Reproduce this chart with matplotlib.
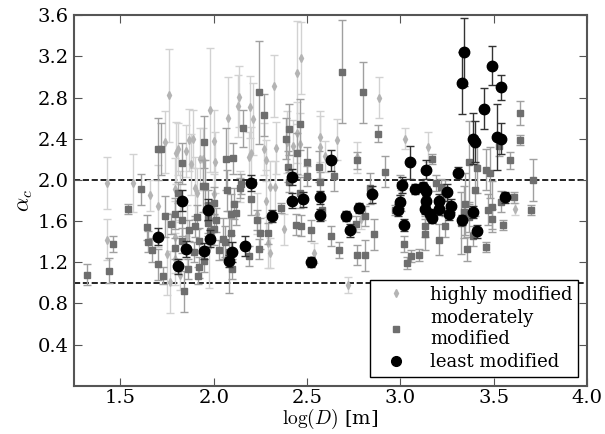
import numpy as np
import matplotlib
matplotlib.use('Agg')
import matplotlib.pyplot as plt
from matplotlib.lines import Line2D

plt.rcParams['font.family'] = 'DejaVu Serif'
plt.rcParams['mathtext.fontset'] = 'cm'

# least modified (black circles): log(D), alpha_c, error
least_x = [1.70, 1.81, 1.83, 1.85, 1.95, 1.97, 1.98, 2.08, 2.10, 2.17, 2.20, 2.31, 2.42, 2.42,
           2.48, 2.52, 2.57, 2.57, 2.63, 2.71, 2.73, 2.78, 2.85, 2.99, 3.00, 3.01, 3.02, 3.05,
           3.08, 3.12, 3.14, 3.14, 3.14, 3.13, 3.16, 3.17, 3.21, 3.21, 3.25, 3.27, 3.26, 3.31,
           3.33, 3.33, 3.34, 3.39, 3.40, 3.39, 3.41, 3.45, 3.49, 3.52, 3.54, 3.54, 3.56]
least_y = [1.45, 1.16, 1.80, 1.33, 1.31, 1.71, 1.43, 1.21, 1.30, 1.36, 1.97, 1.65, 2.03, 1.80,
           1.81, 1.20, 1.83, 1.66, 2.19, 1.65, 1.51, 1.73, 1.86, 1.71, 1.79, 1.95, 1.56, 2.17,
           1.91, 1.93, 2.10, 1.89, 1.80, 1.72, 1.67, 1.63, 1.80, 1.72, 1.88, 1.75, 1.67, 2.07,
           1.61, 2.94, 3.24, 2.40, 2.37, 1.69, 1.50, 2.69, 3.11, 2.42, 2.40, 2.90, 1.83]
least_err = [0.08, 0.07, 0.10, 0.08, 0.08, 0.10, 0.08, 0.06, 0.10, 0.10, 0.08, 0.06, 0.08, 0.07,
             0.07, 0.05, 0.06, 0.06, 0.10, 0.05, 0.06, 0.05, 0.08, 0.06, 0.06, 0.08, 0.06, 0.16,
             0.05, 0.05, 0.09, 0.05, 0.05, 0.05, 0.05, 0.05, 0.06, 0.06, 0.08, 0.06, 0.06, 0.06,
             0.05, 0.30, 0.33, 0.25, 0.20, 0.06, 0.06, 0.20, 0.19, 0.32, 0.15, 0.12, 0.05]

# moderately modified (grey squares)
mod_x = [1.32, 1.44, 1.46, 1.54, 1.61, 1.64, 1.65, 1.67, 1.70, 1.715, 1.70, 1.73, 1.74, 1.77,
         1.79, 1.79, 1.81, 1.83, 1.83, 1.83, 1.84, 1.865, 1.86, 1.895, 1.90, 1.91, 1.92, 1.915,
         1.92, 1.94, 1.955, 1.95, 1.95, 1.97, 1.97, 1.97, 1.98, 2.00, 2.00, 2.01, 2.03, 2.05,
         2.06, 2.065, 2.07, 2.08, 2.09, 2.095, 2.10, 2.105, 2.11, 2.12, 2.14, 2.147, 2.156, 2.19,
         2.20, 2.23, 2.24, 2.24, 2.25, 2.27, 2.29, 2.36, 2.39, 2.405, 2.40, 2.405, 2.44, 2.445,
         2.465, 2.465, 2.47, 2.50, 2.50, 2.52, 2.565, 2.57, 2.58, 2.63, 2.646, 2.67, 2.69, 2.76,
         2.767, 2.77, 2.80, 2.81, 2.81, 2.84, 2.86, 2.88, 2.92, 2.97, 3.00, 3.005, 3.02, 3.035,
         3.06, 3.10, 3.13, 3.13, 3.17, 3.19, 3.22, 3.24, 3.21, 3.24, 3.325, 3.34, 3.345, 3.36,
         3.366, 3.37, 3.39, 3.40, 3.41, 3.46, 3.46, 3.47, 3.48, 3.49, 3.49, 3.53, 3.54, 3.55,
         3.59, 3.61, 3.64, 3.64, 3.70, 3.71]
mod_y = [1.08, 1.12, 1.38, 1.72, 1.91, 1.54, 1.40, 1.32, 2.30, 2.30, 1.18, 1.07, 1.645, 1.57,
         1.67, 1.335, 1.875, 2.16, 1.61, 1.41, 0.92, 1.51, 1.135, 1.30, 1.55, 1.64, 1.41, 1.07,
         1.15, 1.94, 1.94, 2.37, 1.21, 1.755, 1.58, 1.63, 1.50, 1.52, 1.78, 1.61, 1.32, 1.43,
         1.40, 2.20, 1.90, 1.30, 1.665, 1.48, 1.135, 2.21, 1.77, 1.68, 1.92, 1.96, 2.50, 1.26,
         1.81, 1.61, 2.85, 1.33, 1.48, 2.63, 1.48, 1.73, 2.40, 2.49, 2.13, 1.98, 1.565, 2.26,
         2.54, 1.875, 1.555, 2.17, 2.04, 1.51, 2.13, 1.98, 1.71, 1.455, 2.04, 1.32, 3.05, 1.57,
         2.19, 1.27, 2.85, 1.27, 1.65, 1.92, 1.47, 2.45, 2.08, 1.71, 1.95, 1.80, 1.38, 1.19,
         1.26, 1.27, 1.55, 1.47, 2.20, 1.97, 1.93, 1.90, 1.42, 1.55, 1.585, 1.69, 1.765, 1.33,
         2.17, 1.64, 1.455, 1.90, 2.12, 1.35, 2.10, 1.71, 2.07, 1.74, 1.62, 2.33, 1.79, 1.56,
         2.19, 1.83, 2.65, 2.39, 1.71, 2.00]
mod_err = [0.10, 0.12, 0.08, 0.05, 0.15, 0.12, 0.10, 0.12, 0.30, 0.25, 0.15, 0.08, 0.20, 0.10,
           0.15, 0.10, 0.10, 0.20, 0.15, 0.12, 0.20, 0.10, 0.10, 0.10, 0.10, 0.12, 0.12, 0.08,
           0.10, 0.25, 0.25, 0.25, 0.10, 0.15, 0.12, 0.15, 0.12, 0.15, 0.15, 0.12, 0.10, 0.20,
           0.15, 0.30, 0.20, 0.40, 0.20, 0.15, 0.10, 0.15, 0.15, 0.12, 0.10, 0.10, 0.18, 0.10,
           0.15, 0.10, 0.50, 0.10, 0.15, 0.20, 0.10, 0.05, 0.20, 0.25, 0.15, 0.10, 0.10, 0.20,
           0.25, 0.15, 0.10, 0.15, 0.10, 0.10, 0.15, 0.10, 0.10, 0.10, 0.15, 0.08, 0.50, 0.08,
           0.08, 0.10, 0.30, 0.15, 0.10, 0.15, 0.15, 0.08, 0.15, 0.05, 0.10, 0.10, 0.08, 0.06,
           0.06, 0.06, 0.10, 0.15, 0.05, 0.08, 0.08, 0.10, 0.15, 0.10, 0.30, 0.25, 0.30, 0.12,
           0.40, 0.15, 0.10, 0.25, 0.25, 0.05, 0.20, 0.15, 0.25, 0.25, 0.10, 0.10, 0.10, 0.05,
           0.08, 0.05, 0.12, 0.05, 0.05, 0.20]

# highly modified (light grey diamonds)
high_x = [1.43, 1.43, 1.565, 1.66, 1.70, 1.74, 1.75, 1.765, 1.76, 1.79, 1.79, 1.79, 1.80, 1.81,
          1.82, 1.82, 1.85, 1.856, 1.87, 1.877, 1.89, 1.90, 1.91, 1.926, 1.94, 1.975, 1.98, 2.00,
          2.00, 2.006, 2.077, 2.13, 2.135, 2.143, 2.19, 2.195, 2.20, 2.21, 2.23, 2.27, 2.28, 2.28,
          2.29, 2.30, 2.30, 2.325, 2.333, 2.33, 2.376, 2.395, 2.426, 2.447, 2.449, 2.462, 2.467,
          2.54, 2.567, 2.57, 2.597, 2.662, 2.72, 2.77, 2.79, 2.887, 3.024, 3.146, 3.613]
high_y = [1.97, 1.42, 1.97, 1.85, 1.745, 2.37, 1.28, 1.01, 2.82, 1.45, 1.23, 1.91, 2.26, 2.30,
          1.84, 1.08, 2.28, 1.46, 2.39, 2.15, 2.40, 1.92, 1.87, 2.20, 2.20, 1.35, 2.68, 2.38,
          1.86, 2.17, 2.60, 2.72, 2.81, 1.94, 2.22, 2.71, 2.26, 2.59, 1.67, 2.30, 2.19, 1.80,
          1.39, 1.93, 1.29, 2.91, 2.31, 1.93, 1.52, 2.37, 2.33, 3.04, 2.46, 2.35, 3.18,
          1.29, 2.42, 2.32, 2.23, 2.39, 0.98, 2.22, 1.62, 2.80, 2.40, 2.32, 1.72]
high_err = [0.25, 0.20, 0.28, 0.15, 0.40, 0.30, 0.40, 0.30, 0.45, 0.35, 0.25, 0.30, 0.30, 0.25,
            0.25, 0.15, 0.25, 0.30, 0.30, 0.30, 0.28, 0.30, 0.25, 0.30, 0.30, 0.40, 0.60, 0.30,
            0.20, 0.30, 0.40, 0.30, 0.30, 0.15, 0.25, 0.30, 0.25, 0.35, 0.20, 0.25, 0.20, 0.30,
            0.25, 0.25, 0.15, 0.30, 0.25, 0.25, 0.15, 0.30, 0.25, 0.50, 0.30, 0.30, 0.35,
            0.10, 0.25, 0.30, 0.15, 0.20, 0.08, 0.15, 0.10, 0.20, 0.10, 0.15, 0.06]

fig = plt.figure(figsize=(6.05, 4.34), dpi=100)
ax = fig.add_axes([0.122, 0.111, 0.848, 0.854])

ax.errorbar(high_x, high_y, yerr=high_err, fmt='d', color='#b4b4b4', ecolor='#d2d2d2',
            markersize=4, elinewidth=1, capsize=3, zorder=2)
ax.errorbar(mod_x, mod_y, yerr=mod_err, fmt='s', color='#6e6e6e', ecolor='#a0a0a0',
            markersize=4.5, elinewidth=1, capsize=3, markeredgecolor='#6e6e6e', zorder=3)
ax.errorbar(least_x, least_y, yerr=least_err, fmt='o', color='black', ecolor='#333333',
            markersize=7.5, elinewidth=1, capsize=3, zorder=4)

ax.axhline(2.0, color='black', linestyle='--', linewidth=1.2, zorder=1)
ax.axhline(1.0, color='black', linestyle='--', linewidth=1.2, zorder=1)

ax.set_xlim(1.25, 4.0)
ax.set_ylim(0.0, 3.6)
ax.set_xticks([1.5, 2.0, 2.5, 3.0, 3.5, 4.0])
ax.set_yticks([0.4, 0.8, 1.2, 1.6, 2.0, 2.4, 2.8, 3.2, 3.6])
ax.tick_params(direction='in', top=True, right=True, length=6, labelsize=14, color='#555555')
ax.tick_params(axis='x', pad=2)
for s in ax.spines.values():
    s.set_color('#555555')
    s.set_linewidth(1.5)

ax.set_xlabel(r'$\log(D)$ [m]', fontsize=14, labelpad=0)
ax.set_ylabel(r'$\alpha_c$', fontsize=16, labelpad=2)

handles = [Line2D([], [], marker='d', linestyle='none', color='#b4b4b4', markersize=4),
           Line2D([], [], marker='s', linestyle='none', color='#6e6e6e', markersize=4),
           Line2D([], [], marker='o', linestyle='none', color='black', markersize=7)]
labels = ['highly modified', 'moderately\nmodified', 'least modified']
leg = ax.legend(handles, labels, loc='lower right', numpoints=1, fontsize=13, fancybox=False,
                framealpha=1, edgecolor='black', handletextpad=0.8, borderpad=0.3,
                labelspacing=0.3, handlelength=2.2)
leg.get_frame().set_linewidth(1.0)

fig.savefig('out.png', dpi=100)
